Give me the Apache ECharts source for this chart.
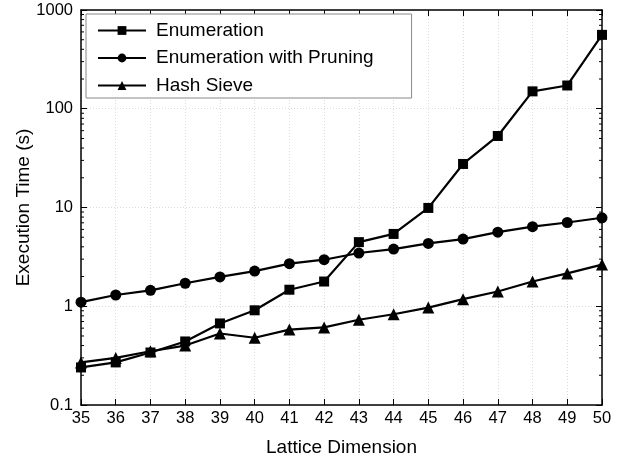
<!DOCTYPE html>
<html>
<head>
<meta charset="utf-8">
<script src="https://cdn.jsdelivr.net/npm/echarts@6/dist/echarts.min.js"></script>
<style>
  html, body { margin: 0; padding: 0; background: #fff; }
  #chart { width: 629px; height: 459px; }
</style>
</head>
<body>
<div id="chart"></div>
<script>
// lattice dimensions on the x axis
var dims = [35, 36, 37, 38, 39, 40, 41, 42, 43, 44, 45, 46, 47, 48, 49, 50];
// execution times in seconds
var enumeration = [0.24, 0.27, 0.34, 0.44, 0.67, 0.91, 1.47, 1.78, 4.46, 5.4, 9.9, 27.6, 53, 150, 172, 560];
var enumPruning = [1.10, 1.30, 1.45, 1.71, 1.98, 2.27, 2.70, 2.96, 3.46, 3.79, 4.33, 4.79, 5.63, 6.39, 7.05, 7.87];
var hashSieve = [0.27, 0.30, 0.35, 0.40, 0.53, 0.48, 0.58, 0.61, 0.73, 0.83, 0.97, 1.18, 1.41, 1.78, 2.15, 2.64];
// minor tick values of the log axis
var minorTicks = [];
[0.1, 1, 10, 100].forEach(function (d) {
  for (var k = 2; k <= 9; k++) minorTicks.push(+(d * k).toPrecision(3));
});

var FONT = 'Liberation Sans, Arial, sans-serif';

function pairs(ys) {
  return dims.map(function (x, i) { return [x, ys[i]]; });
}

function lineSeries(name, ys, symbol, size) {
  return {
    name: name,
    type: 'line',
    data: pairs(ys),
    symbol: symbol,
    symbolSize: size,
    lineStyle: { color: '#000', width: 2.2 },
    itemStyle: { color: '#000' },
    emphasis: { disabled: true },
    z: 5
  };
}

var chart = echarts.init(document.getElementById('chart'), null, { renderer: 'canvas' });

var option = {
  animation: false,
  backgroundColor: '#fff',
  textStyle: { fontFamily: FONT, color: '#000' },
  grid: { left: 81, right: 27, top: 10, bottom: 54, containLabel: false, outerBoundsMode: 'none' },
  legend: {
    orient: 'vertical',
    left: 86,
    top: 14,
    padding: [7, 38, 3, 11],
    itemWidth: 48,
    itemHeight: 11,
    itemGap: 8.5,
    backgroundColor: '#fff',
    borderColor: '#888',
    borderWidth: 1,
    textStyle: { fontFamily: FONT, fontSize: 19, color: '#000', padding: [0, 0, 0, 5] },
    data: ['Enumeration', 'Enumeration with Pruning', 'Hash Sieve']
  },
  xAxis: [{
    type: 'value',
    min: 35,
    max: 50,
    interval: 1,
    name: 'Lattice Dimension',
    nameLocation: 'middle',
    nameGap: 33,
    nameMoveOverlap: false,
    nameTextStyle: { fontFamily: FONT, fontSize: 19, color: '#000' },
    axisLine: { lineStyle: { color: '#000', width: 1.5 } },
    axisTick: { inside: true, length: 6, lineStyle: { color: '#000' } },
    axisLabel: { fontFamily: FONT, fontSize: 16.5, color: '#000', margin: 5 },
    splitLine: { show: true, lineStyle: { color: '#dcdcdc', type: [1, 2] } }
  }, {
    type: 'value',
    position: 'top',
    min: 35,
    max: 50,
    interval: 1,
    axisLine: { lineStyle: { color: '#000', width: 1.5 } },
    axisTick: { inside: true, length: 6, lineStyle: { color: '#000' } },
    axisLabel: { show: false },
    splitLine: { show: false }
  }],
  yAxis: [{
    type: 'log',
    logBase: 10,
    min: 0.1,
    max: 1000,
    name: 'Execution Time (s)',
    nameLocation: 'middle',
    nameGap: 48,
    nameMoveOverlap: false,
    nameTextStyle: { fontFamily: FONT, fontSize: 19, color: '#000' },
    axisLine: { show: true, lineStyle: { color: '#000', width: 1.5 } },
    axisTick: { show: true, inside: true, length: 6, lineStyle: { color: '#000' } },
    axisLabel: {
      fontFamily: FONT, fontSize: 16.5, color: '#000', margin: 8,
      formatter: function (v) { return String(+v.toPrecision(3)); }
    },
    splitLine: { show: true, lineStyle: { color: '#dcdcdc', type: [1, 2] } }
  }, {
    type: 'log',
    logBase: 10,
    min: 0.1,
    max: 1000,
    position: 'right',
    axisLine: { show: true, lineStyle: { color: '#000', width: 1.5 } },
    axisTick: { show: true, inside: true, length: 6, lineStyle: { color: '#000' } },
    axisLabel: { show: false },
    splitLine: { show: false }
  }],
  series: [
    lineSeries('Enumeration', enumeration, 'rect', 10),
    lineSeries('Enumeration with Pruning', enumPruning, 'circle', 11),
    lineSeries('Hash Sieve', hashSieve, 'triangle', 12),
    {
      // minor ticks of the log axes, placed through the axis scale
      type: 'custom',
      silent: true,
      clip: false,
      z: 4,
      data: minorTicks.map(function (v) { return [dims[0], v]; }),
      renderItem: function (params, api) {
        var v = api.value(1);
        var l = api.coord([dims[0], v]);
        var r = api.coord([dims[dims.length - 1], v]);
        var st = { stroke: '#000', lineWidth: 1 };
        return {
          type: 'group',
          children: [
            { type: 'line', shape: { x1: l[0], y1: l[1], x2: l[0] + 3, y2: l[1] }, style: st },
            { type: 'line', shape: { x1: r[0], y1: r[1], x2: r[0] - 3, y2: r[1] }, style: st }
          ]
        };
      }
    }
  ]
};

chart.setOption(option);
</script>
</body>
</html>
